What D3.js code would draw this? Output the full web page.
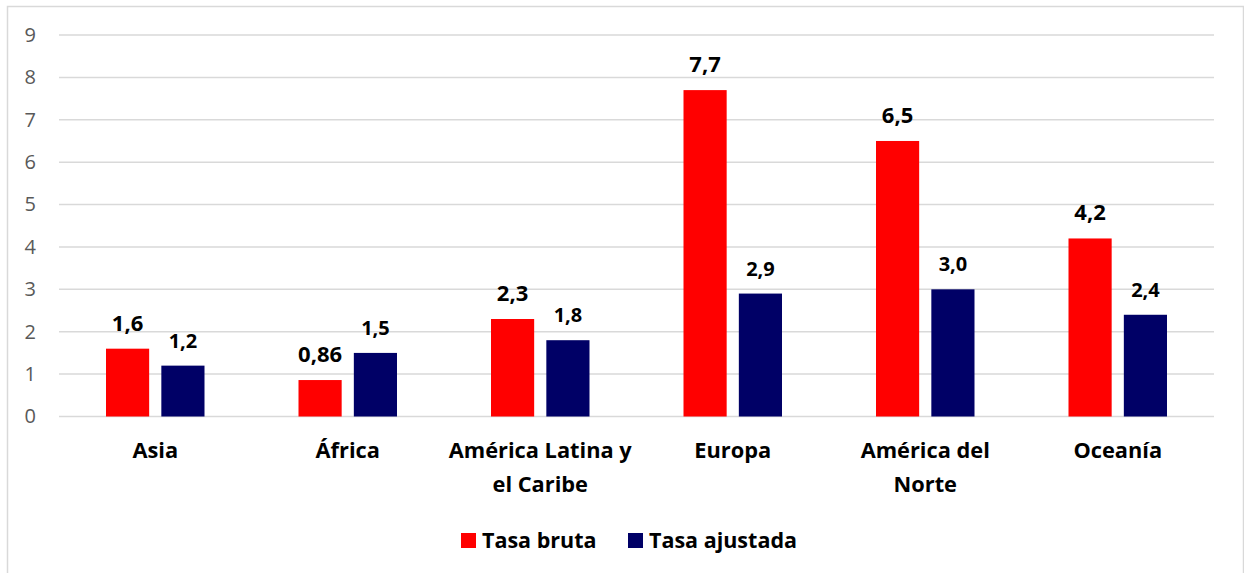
<!DOCTYPE html>
<html lang="es">
<head>
<meta charset="UTF-8">
<title>Tasa bruta y ajustada por región</title>
<script src="https://d3js.org/d3.v7.min.js"></script>
<style>
  body { margin: 0; background: #fff; }
  svg text { font-family: "Open Sans", Lato, sans-serif; }
</style>
</head>
<body>
<svg width="1244" height="573"></svg>
<script>
const regions = [["Asia"], ["África"], ["América Latina y", "el Caribe"], ["Europa"], ["América del", "Norte"], ["Oceanía"]];
const tasaBruta = [1.6, 0.86, 2.3, 7.7, 6.5, 4.2];
const tasaAjustada = [1.2, 1.5, 1.8, 2.9, 3.0, 2.4];
const seriesNames = ["Tasa bruta", "Tasa ajustada"];
const colors = ["#ff0000", "#000066"];
const yTicks = [0, 1, 2, 3, 4, 5, 6, 7, 8, 9];

const svg = d3.select("svg");

// chart border
svg.append("rect")
    .attr("x", 7.5).attr("y", 6.5)
    .attr("width", 1236).attr("height", 580)
    .attr("fill", "none").attr("stroke", "#d9d9d9").attr("stroke-width", 1.5);

const plotLeft = 59, plotRight = 1214, plotTop = 35, plotBottom = 416.5;

const x = d3.scaleBand()
    .domain(regions.map((d, i) => i))
    .range([plotLeft, plotRight]);

const y = d3.scaleLinear()
    .domain([0, 9])
    .range([plotBottom, plotTop]);

const inner = d3.scaleBand()
    .domain([0, 1])
    .range([47, x.bandwidth() - 47])
    .paddingInner(0.22);

// gridlines
svg.append("g")
    .selectAll("line")
    .data(yTicks)
    .join("line")
    .attr("x1", plotLeft).attr("x2", plotRight)
    .attr("y1", d => y(d)).attr("y2", d => y(d))
    .attr("stroke", "#d9d9d9").attr("stroke-width", 1.5);

// y axis labels
const yAxis = svg.append("g")
    .attr("transform", `translate(${plotLeft},0)`)
    .call(d3.axisLeft(y).tickValues(yTicks).tickSize(0).tickPadding(23));
yAxis.select(".domain").remove();
yAxis.selectAll("text")
    .attr("fill", "#595959")
    .style("font-size", "20px")
    .style("font-family", "'Open Sans', Lato, sans-serif");

const fmt = v => (v === 3 ? "3.0" : String(v)).replace(".", ",");

const series = [tasaBruta, tasaAjustada];
series.forEach((vals, s) => {
    const g = svg.append("g");
    g.selectAll("rect")
        .data(vals)
        .join("rect")
        .attr("x", (d, i) => x(i) + inner(s))
        .attr("y", d => y(d))
        .attr("width", inner.bandwidth())
        .attr("height", d => y(0) - y(d))
        .attr("fill", colors[s]);
    g.selectAll("text")
        .data(vals)
        .join("text")
        .attr("x", (d, i) => x(i) + inner(s) + inner.bandwidth() / 2)
        .attr("y", d => y(d) - 18)
        .attr("text-anchor", "middle")
        .attr("font-weight", "bold")
        .attr("font-size", s === 0 ? 22 : 20)
        .attr("fill", "#000")
        .text(d => fmt(d));
});

// category labels
const cat = svg.append("g")
    .selectAll("text")
    .data(regions)
    .join("text")
    .attr("x", (d, i) => x(i) + x.bandwidth() / 2)
    .attr("y", 458)
    .attr("text-anchor", "middle")
    .attr("font-weight", "bold")
    .attr("font-size", 21.8)
    .attr("fill", "#000");
cat.selectAll("tspan")
    .data(d => d)
    .join("tspan")
    .attr("x", function () { return this.parentNode.getAttribute("x"); })
    .attr("dy", (d, i) => i === 0 ? 0 : 34)
    .text(d => d);

// legend
const legendX = [461, 628];
const legend = svg.append("g");
seriesNames.forEach((name, i) => {
    legend.append("rect")
        .attr("x", legendX[i]).attr("y", 533)
        .attr("width", 15).attr("height", 15)
        .attr("fill", colors[i]);
    legend.append("text")
        .attr("x", legendX[i] + 21).attr("y", 548)
        .attr("font-weight", "bold")
        .attr("font-size", 21.5)
        .attr("fill", "#000")
        .text(name);
});
</script>
</body>
</html>
